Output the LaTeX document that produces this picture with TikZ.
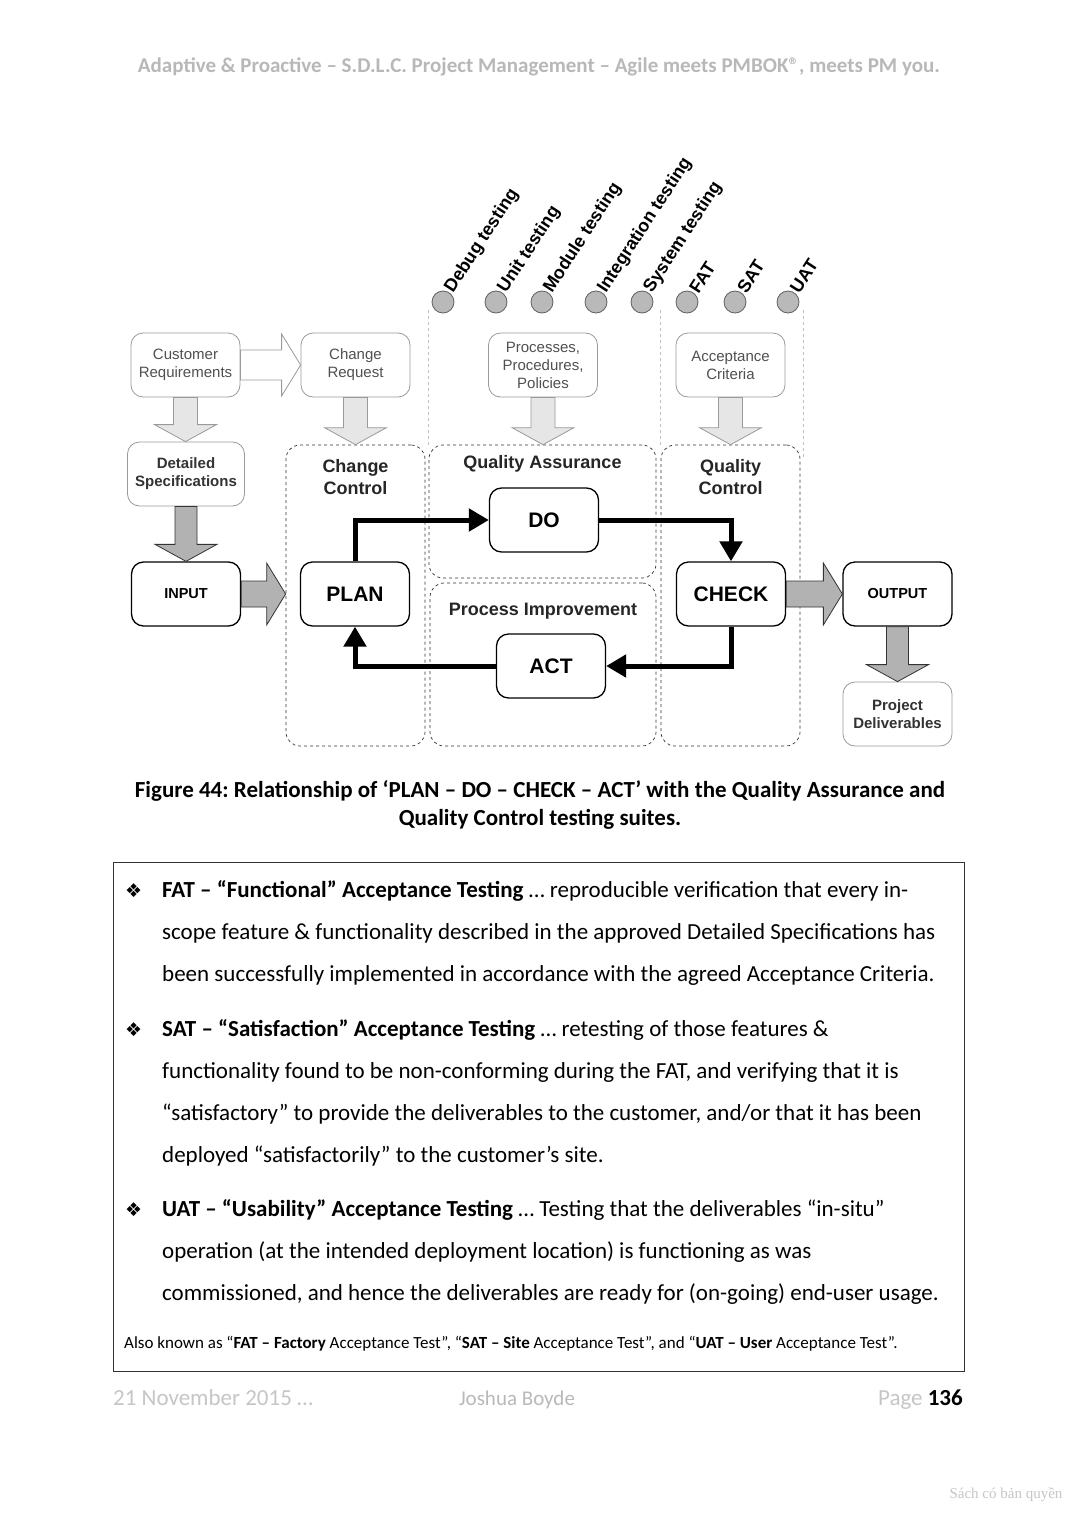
\documentclass[tikz,border=0pt]{standalone}
\usepackage{fontspec}
\setmainfont{Carlito}
\newfontfamily\diafont{Liberation Sans}
\newfontfamily\symfont{DejaVu Sans}
\newfontfamily\wmfont{Liberation Serif}
\usetikzlibrary{positioning,arrows.meta,calc}
\frenchspacing

\definecolor{lightline}{HTML}{9A9A9A}
\definecolor{lighttext}{HTML}{505050}
\definecolor{darkline}{HTML}{333333}
\definecolor{darkfill}{HTML}{B2B2B2}
\definecolor{palefill}{HTML}{E6E6E6}
\definecolor{headgray}{HTML}{B8B8B8}

% block arrows from one box to the next
\newcommand{\downblock}[4]{%
  \draw[#1] let \p1=(#2.south), \p2=(#3.north) in
    (\x1-#4,\y1) -- (\x1-#4,\y2+17pt) -- (\x1-31pt,\y2+17pt) -- (\x1,\y2)
    -- (\x1+31pt,\y2+17pt) -- (\x1+#4,\y2+17pt) -- (\x1+#4,\y1) -- cycle;}
\newcommand{\rightblock}[4]{%
  \draw[#1] let \p1=(#2.east), \p2=(#3.west) in
    (\x1,\y1+#4) -- (\x2-19pt,\y1+#4) -- (\x2-19pt,\y1+31pt) -- (\x2,\y1)
    -- (\x2-19pt,\y1-31pt) -- (\x2-19pt,\y1-#4) -- (\x1,\y1-#4) -- cycle;}
\newcommand{\bulmark}{\llap{{\symfont\fontsize{19}{19}\selectfont ❖}\hspace{20pt}}}

\begin{document}
\begin{tikzpicture}[
  x=1pt, y=-1pt,
  box/.style={draw, rounded corners=12pt, minimum width=109pt, minimum height=64pt,
              align=center, inner sep=2pt, line width=0.8pt},
  softbox/.style={box, draw=lightline, text=lighttext, font=\diafont\fontsize{15}{18}\selectfont},
  softbold/.style={softbox, text=darkline, font=\diafont\bfseries\fontsize{15}{18}\selectfont},
  stagebox/.style={box, draw=black, line width=1.3pt, font=\diafont\bfseries\fontsize{21}{24}\selectfont},
  iobox/.style={stagebox, font=\diafont\bfseries\fontsize{14.5}{17}\selectfont},
  zone/.style={draw=darkline, dashed, rounded corners=14pt, line width=0.7pt, inner sep=0pt},
  zonetitle/.style={font=\diafont\bfseries\fontsize{18}{22}\selectfont, align=center, text=black!85},
  probe/.style={circle, draw=gray!75!black, fill=gray!55, minimum size=22pt, inner sep=0pt, line width=0.8pt},
  probelabel/.style={font=\diafont\bfseries\fontsize{18}{18}\selectfont, rotate=57, anchor=west, inner sep=1pt},
  guide/.style={draw=gray!50, dashed, line width=0.7pt},
  pdca/.style={line width=5pt, -{Triangle[length=20pt,width=22pt]}},
  paleblock/.style={draw=lightline, fill=palefill, line width=0.8pt},
  hollowblock/.style={draw=lightline, fill=white, line width=0.8pt},
  darkblock/.style={draw=darkline, fill=darkfill, line width=0.8pt},
  item/.style={anchor=base west, align=left, inner sep=0pt, font=\fontsize{23}{42}\selectfont}
]
\fill[white] (0,0) rectangle (1077,1521);
\useasboundingbox (0,0) rectangle (1077,1521);

% page header
\node (header) [anchor=base, text=headgray, font=\bfseries\fontsize{21}{24}\selectfont]
  at (539,72) {Adaptive \& Proactive – S.D.L.C. Project Management – Agile meets PMBOK®, meets PM you.};

% test suites
\node (debug)  [probe] at (443,302) {};
\node (unit)   [probe] at (496,302) {};
\node (module) [probe] at (542,302) {};
\node (integ)  [probe] at (596,302) {};
\node (system) [probe] at (642,302) {};
\node (fat)    [probe] at (687,302) {};
\node (sat)    [probe] at (735,302) {};
\node (uat)    [probe] at (788,302) {};
\node [probelabel] at (debug.60)  {Debug testing};
\node [probelabel] at (unit.60)   {Unit testing};
\node [probelabel] at (module.60) {Module testing};
\node [probelabel] at (integ.60)  {Integration testing};
\node [probelabel] at (system.60) {System testing};
\node [probelabel] at (fat.60)    {FAT};
\node [probelabel] at (sat.60)    {SAT};
\node [probelabel] at (uat.60)    {UAT};

% zones
\node (cc) [zone, minimum width=139pt, minimum height=301pt] at (355.5,595.5) {};
\node (qa) [zone, minimum width=227pt, minimum height=133pt] at (542.5,511.5) {};
\node (pi) [zone, minimum width=226pt, minimum height=163pt] at (543,664.5) {};
\node (qc) [zone, minimum width=139pt, minimum height=301pt] at (730.5,595.5) {};
\node [zonetitle] at ($(cc.north)+(0,32)$) {Change\\Control};
\node [zonetitle] at ($(qa.north)+(0,19)$) {Quality Assurance};
\node [zonetitle] at ($(pi.north)+(0,29)$) {Process Improvement};
\node [zonetitle] at ($(qc.north)+(0,32)$) {Quality\\Control};

\draw [guide] (qa.north west) -- ++(0,-135);
\draw [guide] (qc.north west) -- ++(0,-135);
\draw [guide] ($(qc.north east)+(3,12)$) -- ++(0,-147);

% inputs
\node (cust)   [softbox] at (185.5,365) {Customer\\Requirements};
\node (chreq)  [softbox] at (355.5,365) {Change\\Request};
\node (procs)  [softbox] at (543,365)   {Processes,\\Procedures,\\Policies};
\node (accept) [softbox] at (730.5,365) {Acceptance\\Criteria};
\node (spec)   [softbold, minimum width=117pt] at (186,474) {Detailed\\Specifications};

% cycle
\node (input)  [iobox]    at (186,594)   {INPUT};
\node (plan)   [stagebox] at (355,594)   {PLAN};
\node (do)     [stagebox] at (544,520)   {DO};
\node (check)  [stagebox] at (731,594)   {CHECK};
\node (act)    [stagebox] at (551,666)   {ACT};
\node (output) [iobox]    at (897.5,594) {OUTPUT};
\node (deliv)  [softbold] at (897.5,714) {Project\\Deliverables};

\rightblock{hollowblock}{cust}{chreq}{15pt}
\downblock{paleblock}{cust}{spec}{12pt}
\downblock{paleblock}{chreq}{cc}{12pt}
\downblock{paleblock}{procs}{qa}{12pt}
\downblock{paleblock}{accept}{qc}{12pt}
\downblock{darkblock}{spec}{input}{11pt}
\rightblock{darkblock}{input}{cc}{13pt}
\rightblock{darkblock}{check}{output}{13pt}
\downblock{darkblock}{output}{deliv}{11pt}

\draw [pdca] (plan.north) |- (do.west);
\draw [pdca] (do.east) -| (check.north);
\draw [pdca] (check.south) |- (act.east);
\draw [pdca] (act.west) -| (plan.south);

% caption (base = last line)
\node (caption) [anchor=base, align=center, font=\bfseries\fontsize{23}{28}\selectfont] at (540,825)
  {Figure 44: Relationship of ‘PLAN – DO – CHECK – ACT’ with the Quality Assurance and\\
   Quality Control testing suites.};

% notes
\node (notes) [draw=darkline, line width=0.8pt, minimum width=851pt, minimum height=509pt,
  anchor=north west, inner sep=0pt] at (113,862) {};
\node (fatnote) [item] at (162,981)
  {\bulmark\textbf{FAT – “Functional” Acceptance Testing} … reproducible verification that every in-\\
   scope feature \& functionality described in the approved Detailed Specifications has\\
   been successfully implemented in accordance with the agreed Acceptance Criteria.};
\node (satnote) [item] at (162,1162)
  {\bulmark\textbf{SAT – “Satisfaction” Acceptance Testing} … retesting of those features \&\\
   functionality found to be non-conforming during the FAT, and verifying that it is\\
   “satisfactory” to provide the deliverables to the customer, and/or that it has been\\
   deployed “satisfactorily” to the customer’s site.};
\node (uatnote) [item] at (162,1300)
  {\bulmark\textbf{UAT – “Usability” Acceptance Testing} … Testing that the deliverables “in-situ”\\
   operation (at the intended deployment location) is functioning as was\\
   commissioned, and hence the deliverables are ready for (on-going) end-user usage.};
\node (aka) [anchor=base west, inner sep=0pt, font=\fontsize{17}{19}\selectfont] at (124,1348)
  {Also known as “\textbf{FAT – Factory} Acceptance Test”, “\textbf{SAT – Site} Acceptance Test”, and “\textbf{UAT – User} Acceptance Test”.};

% footer
\node (date) [anchor=base west, inner sep=0pt, text=gray!45, font=\fontsize{23}{25}\selectfont] at (113,1405) {21 November 2015 …};
\node (author) [anchor=base, inner sep=0pt, text=gray!55, font=\fontsize{21}{23}\selectfont] at (517,1405) {Joshua Boyde};
\node (page) [anchor=base east, inner sep=0pt, font=\fontsize{23}{25}\selectfont] at (963,1405) {{\color{gray!45}Page} \textbf{136}};
\node (mark) [anchor=base, inner sep=0pt, text=gray!45, font=\wmfont\fontsize{15}{17}\selectfont] at (1006,1498) {Sách có bản quyền};
\end{tikzpicture}
\end{document}
